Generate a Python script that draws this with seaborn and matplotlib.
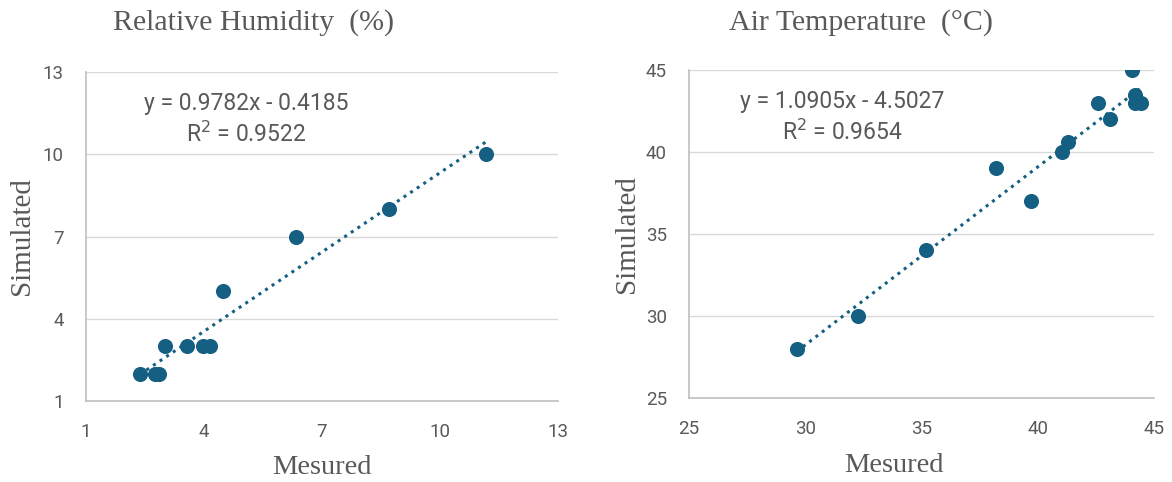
import matplotlib
matplotlib.use("Agg")
import numpy as np
import pandas as pd
import seaborn as sns
import matplotlib.pyplot as plt

# Relative humidity (%)
rh_measured = [2.37, 2.75, 2.85, 3.02, 3.56, 3.97, 4.15, 4.47, 6.34, 8.71, 11.18]
rh_simulated = [2, 2, 2, 3, 3, 3, 3, 5, 7, 8, 10]
rh_equation = "y = 0.9782x - 0.4185"
rh_r2 = "R$^2$ = 0.9522"

# Air temperature (°C)
t_measured = [29.63, 32.26, 35.18, 38.2, 39.7, 41.06, 41.28, 42.6, 43.12, 44.05, 44.18, 44.2, 44.45]
t_simulated = [28, 30, 34, 39, 37, 40, 40.6, 43, 42, 45, 43.5, 43, 43]
t_equation = "y = 1.0905x - 4.5027"
t_r2 = "R$^2$ = 0.9654"

rh_ticks = [1, 4, 7, 10, 13]
t_ticks = [25, 30, 35, 40, 45]

BLUE = "#156082"
GREY = "#595959"
GRID = "#d9d9d9"
SANS = ["Roboto", "DejaVu Sans"]
SERIF = ["Liberation Serif", "DejaVu Serif"]

sns.set_theme(style="white")
plt.rcParams["font.family"] = SANS

fig = plt.figure(figsize=(11.72, 4.82), dpi=100)
ax1 = fig.add_axes([0.0734, 0.168, 0.4027, 0.6826])
ax2 = fig.add_axes([0.5879, 0.1743, 0.3968, 0.6805])

rh = pd.DataFrame({"Mesured": rh_measured, "Simulated": rh_simulated})
tt = pd.DataFrame({"Mesured": t_measured, "Simulated": t_simulated})

panels = [
    (ax1, rh, rh_ticks, rh_equation, rh_r2, 0.34),
    (ax2, tt, t_ticks, t_equation, t_r2, 0.33),
]

for ax, df, ticks, eq, r2, tx in panels:
    sns.regplot(
        data=df, x="Mesured", y="Simulated", ax=ax, ci=None,
        scatter_kws={"s": 118, "color": BLUE, "alpha": 1, "linewidths": 0, "zorder": 3},
        line_kws={"color": BLUE, "linestyle": (0, (1, 1.6)), "linewidth": 2.2, "zorder": 4},
    )
    ax.set_xlim(ticks[0], ticks[-1])
    ax.set_ylim(ticks[0], ticks[-1])
    ax.set_xticks(ticks)
    ax.set_yticks(ticks)
    ax.grid(axis="y", color=GRID, linewidth=1)
    ax.grid(axis="x", visible=False)
    ax.set_axisbelow(True)
    for s in ["top", "right"]:
        ax.spines[s].set_visible(False)
    for s in ["left", "bottom"]:
        ax.spines[s].set_color("#bfbfbf")
        ax.spines[s].set_linewidth(1.2)
    ax.tick_params(axis="both", which="major", direction="out", length=5,
                   width=1, color="#bfbfbf", labelsize=13.5, labelcolor=GREY, pad=11)
    ax.set_xlabel("")
    ax.set_ylabel("")
    ax.text(tx, 0.905, eq, transform=ax.transAxes, ha="center", va="center",
            fontsize=16.5, color=GREY)
    ax.text(tx, 0.81, r2, transform=ax.transAxes, ha="center", va="center",
            fontsize=16.5, color=GREY)

# titles and axis labels
fig.text(254 / 1172, 1 - 23 / 482, "Relative Humidity  (%)", ha="center", va="center",
         fontsize=21.5, color=GREY, family=SERIF)
fig.text(861 / 1172, 1 - 23 / 482, "Air Temperature  (°C)", ha="center", va="center",
         fontsize=21.5, color=GREY, family=SERIF)
fig.text(322 / 1172, 1 - 467 / 482, "Mesured", ha="center", va="center",
         fontsize=20.5, color=GREY, family=SERIF)
fig.text(894 / 1172, 1 - 465 / 482, "Mesured", ha="center", va="center",
         fontsize=20.5, color=GREY, family=SERIF)
fig.text(22 / 1172, 1 - 236 / 482, "Simulated", ha="center", va="center",
         fontsize=21, color=GREY, family=SERIF, rotation=90)
fig.text(627 / 1172, 1 - 234 / 482, "Simulated", ha="center", va="center",
         fontsize=21, color=GREY, family=SERIF, rotation=90)

fig.savefig("out.png", dpi=100)
